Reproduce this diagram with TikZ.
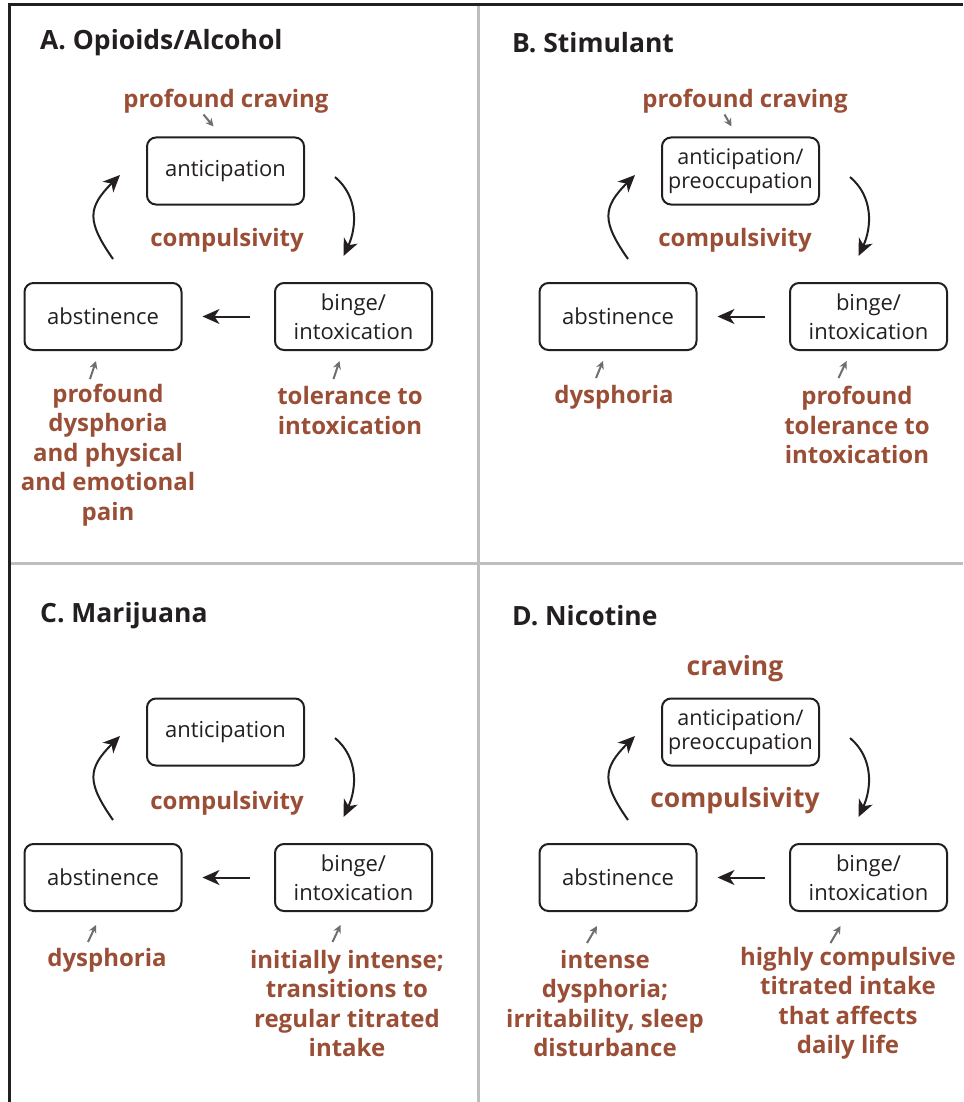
\documentclass[tikz,border=0pt]{standalone}
\usepackage{fontspec}
\setmainfont{Open Sans}
\usetikzlibrary{arrows.meta}
\definecolor{inkdark}{RGB}{35,31,32}
\definecolor{rust}{RGB}{154,78,54}
\definecolor{hintgray}{RGB}{109,110,113}
\definecolor{rulegray}{RGB}{188,190,192}

\begin{document}
\begin{tikzpicture}[
    x=1pt, y=1pt,
    >={Stealth[length=17pt,width=15pt,inset=5pt]},
    stage/.style={
		rectangle,
		rounded corners=9pt,
		draw=inkdark,
		line width=2pt,
		text=inkdark,
		align=center,
		minimum width=157pt,
		minimum height=67pt,
		font=\fontsize{22}{29}\selectfont
	},
	tight/.style={
		font=\fontsize{21.5}{24.5}\selectfont
	},
	effect/.style={
		text=rust,
		align=center,
		font=\bfseries\fontsize{24}{29.5}\selectfont
	},
	bigeffect/.style={
		effect,
		font=\bfseries\fontsize{26.5}{32}\selectfont
	},
	heading/.style={
		anchor=west,
		inner sep=0pt,
		text=inkdark,
		font=\bfseries\fontsize{26.5}{30}\selectfont
	},
	cycle/.style={
		->,
		draw=inkdark,
		line width=2pt
	},
	hint/.style={
		-{Stealth[length=8pt,width=8pt]},
		draw=hintgray,
		line width=2pt
	}
  ]
  \useasboundingbox (0,0) rectangle (963,-1102);

  % frame and dividers
  \draw [rulegray, line width=3pt] (478,-4) -- (478,-1102);
  \draw [rulegray, line width=3pt] (9,-563) -- (963,-563);
  \draw [inkdark, line width=3pt] (9,-1102) |- (963,-4.5);

  % A. Opioids/Alcohol
  \node [heading] (headA) at (40,-43) {A. Opioids/Alcohol};
  \node [stage] (antA) at (225.5,-171) {anticipation};
  \node [stage] (absA) at (103,-316.5) {abstinence};
  \node [stage] (bingeA) at (353.5,-316.5) {binge/\\intoxication};
  \node [effect] (craveA) at (226,-101) {profound craving};
  \node [effect] (compA) at (227,-240) {compulsivity};
  \node [effect] (painA) at (108,-455) {profound\\dysphoria\\and physical\\and emotional\\pain};
  \node [effect] (tolA) at (350,-410.5) {tolerance to\\intoxication};

  \draw [cycle] ([xshift=30pt,yshift=-6pt]antA.east) to[out=-40,in=65] ([xshift=-10pt,yshift=26pt]bingeA.north);
  \draw [cycle, shorten <=24pt, shorten >=20pt] (bingeA) -- (absA);
  \draw [cycle] ([xshift=10pt,yshift=23pt]absA.north) to[out=125,in=225,looseness=1.4] ([xshift=-26pt,yshift=-4pt]antA.west);
  \draw [hint] ([xshift=-22pt,yshift=22pt]antA.north) -- ([xshift=-12pt,yshift=10pt]antA.north);
  \draw [hint] ([xshift=-13pt,yshift=-28pt]absA.south) -- ([xshift=-7pt,yshift=-10pt]absA.south);
  \draw [hint] ([xshift=-20pt,yshift=-28pt]bingeA.south) -- ([xshift=-14pt,yshift=-10pt]bingeA.south);

  % B. Stimulant
  \node [heading] (headB) at (512,-43) {B. Stimulant};
  \node [stage, tight] (antB) at (740.5,-171) {anticipation/\\preoccupation};
  \node [stage] (absB) at (618,-316.5) {abstinence};
  \node [stage] (bingeB) at (868.5,-316.5) {binge/\\intoxication};
  \node [effect] (craveB) at (745,-101) {profound craving};
  \node [effect] (compB) at (735,-240) {compulsivity};
  \node [effect] (dysB) at (614,-397) {dysphoria};
  \node [effect] (tolB) at (857,-425) {profound\\tolerance to\\intoxication};

  \draw [cycle] ([xshift=30pt,yshift=-6pt]antB.east) to[out=-40,in=65] ([xshift=-10pt,yshift=26pt]bingeB.north);
  \draw [cycle, shorten <=24pt, shorten >=20pt] (bingeB) -- (absB);
  \draw [cycle] ([xshift=10pt,yshift=23pt]absB.north) to[out=125,in=225,looseness=1.4] ([xshift=-26pt,yshift=-4pt]antB.west);
  \draw [hint] ([xshift=-16pt,yshift=22pt]antB.north) -- ([xshift=-9pt,yshift=10pt]antB.north);
  \draw [hint] ([xshift=-22pt,yshift=-27pt]absB.south) -- ([xshift=-15pt,yshift=-10pt]absB.south);
  \draw [hint] ([xshift=-30pt,yshift=-27pt]bingeB.south) -- ([xshift=-22pt,yshift=-10pt]bingeB.south);

  % C. Marijuana
  \node [heading] (headC) at (40,-616) {C. Marijuana};
  \node [stage] (antC) at (225.5,-732) {anticipation};
  \node [stage] (absC) at (103,-877.5) {abstinence};
  \node [stage] (bingeC) at (353.5,-877.5) {binge/\\intoxication};
  \node [effect] (compC) at (227,-803) {compulsivity};
  \node [effect] (dysC) at (107,-960) {dysphoria};
  \node [effect] (titrC) at (347,-1003.5) {initially intense;\\transitions to\\regular titrated\\intake};

  \draw [cycle] ([xshift=30pt,yshift=-6pt]antC.east) to[out=-40,in=65] ([xshift=-10pt,yshift=26pt]bingeC.north);
  \draw [cycle, shorten <=24pt, shorten >=20pt] (bingeC) -- (absC);
  \draw [cycle] ([xshift=10pt,yshift=23pt]absC.north) to[out=125,in=225,looseness=1.4] ([xshift=-26pt,yshift=-4pt]antC.west);
  \draw [hint] ([xshift=-15pt,yshift=-30pt]absC.south) -- ([xshift=-7pt,yshift=-13pt]absC.south);
  \draw [hint] ([xshift=-21pt,yshift=-30pt]bingeC.south) -- ([xshift=-13pt,yshift=-13pt]bingeC.south);

  % D. Nicotine
  \node [heading] (headD) at (512,-616) {D. Nicotine};
  \node [stage, tight] (antD) at (740.5,-732) {anticipation/\\preoccupation};
  \node [stage] (absD) at (618,-877.5) {abstinence};
  \node [stage] (bingeD) at (868.5,-877.5) {binge/\\intoxication};
  \node [bigeffect] (craveD) at (735,-669) {craving};
  \node [bigeffect] (compD) at (735,-801) {compulsivity};
  \node [effect] (irrD) at (605,-1003.5) {intense\\dysphoria;\\irritability, sleep\\disturbance};
  \node [effect] (lifeD) at (848,-1003.5) {highly compulsive\\titrated intake\\that affects\\daily life};

  \draw [cycle] ([xshift=30pt,yshift=-6pt]antD.east) to[out=-40,in=65] ([xshift=-10pt,yshift=26pt]bingeD.north);
  \draw [cycle, shorten <=24pt, shorten >=20pt] (bingeD) -- (absD);
  \draw [cycle] ([xshift=10pt,yshift=23pt]absD.north) to[out=125,in=225,looseness=1.4] ([xshift=-26pt,yshift=-4pt]antD.west);
  \draw [hint] ([xshift=-31pt,yshift=-31pt]absD.south) -- ([xshift=-21pt,yshift=-14pt]absD.south);
  \draw [hint] ([xshift=-38pt,yshift=-31pt]bingeD.south) -- ([xshift=-28pt,yshift=-14pt]bingeD.south);

\end{tikzpicture}
\end{document}
